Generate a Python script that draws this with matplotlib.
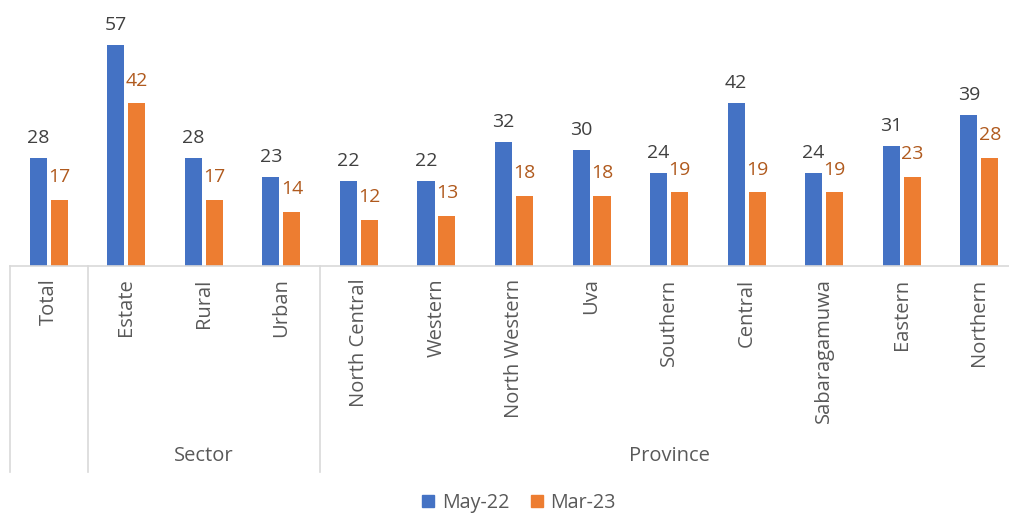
import matplotlib
matplotlib.use("Agg")
import matplotlib.pyplot as plt
import matplotlib.transforms as mtransforms
from matplotlib.patches import Patch
import numpy as np

plt.rcParams['font.family'] = ['Open Sans', 'DejaVu Sans']

categories = ["Total", "Estate", "Rural", "Urban", "North Central", "Western",
              "North Western", "Uva", "Southern", "Central", "Sabaragamuwa",
              "Eastern", "Northern"]
may22 = [28, 57, 28, 23, 22, 22, 32, 30, 24, 42, 24, 31, 39]
mar23 = [17, 42, 17, 14, 12, 13, 18, 18, 19, 19, 19, 23, 28]
groups = [("Sector", 1, 3), ("Province", 4, 12)]
separators = [-0.5, 0.5, 3.5, 12.5]

blue = "#4472C4"
orange = "#ED7D31"
grey_text = "#595959"
line_grey = "#D9D9D9"

W, H = 1009, 513
fig = plt.figure(figsize=(W / 100, H / 100), dpi=100)
ax = fig.add_axes([10 / W, (H - 266) / H, 1008 / W, 266 / H])

x = np.arange(len(categories))
bw = 0.22
off = 0.135
b1 = ax.bar(x - off, may22, bw, color=blue, label="May-22")
b2 = ax.bar(x + off, mar23, bw, color=orange, label="Mar-23")

for rect, v in zip(b1, may22):
    ax.annotate(str(v), (rect.get_x() + rect.get_width() / 2, v),
                xytext=(0, 8), textcoords="offset points",
                ha="center", va="bottom", fontsize=14, color="#404040")
for rect, v in zip(b2, mar23):
    ax.annotate(str(v), (rect.get_x() + rect.get_width() / 2, v),
                xytext=(0, 10), textcoords="offset points",
                ha="center", va="bottom", fontsize=14, color="#B05A1E")

ax.set_xlim(-0.5, len(categories) - 0.5)
ax.set_ylim(0, 266 / 3.87)
ax.set_xticks(x)
ax.set_xticklabels(categories, rotation=90, fontsize=14.5, color=grey_text)
ax.tick_params(axis="x", length=0, pad=9)
ax.set_yticks([])
for s in ["top", "right", "left"]:
    ax.spines[s].set_visible(False)
ax.spines["bottom"].set_color(line_grey)
ax.spines["bottom"].set_linewidth(1.2)

trans = mtransforms.blended_transform_factory(ax.transData, ax.transAxes)
for sx in separators:
    ax.plot([sx, sx], [0, -206 / 266], color=line_grey, lw=1.2,
            transform=trans, clip_on=False)

for name, i0, i1 in groups:
    ax.text((i0 + i1) / 2, (266 - 456) / 266, name, transform=trans,
            ha="center", va="center", fontsize=14.5, color=grey_text)

handles = [Patch(color=blue, label="May-22"), Patch(color=orange, label="Mar-23")]
fig.legend(handles=handles, loc="center", bbox_to_anchor=(519 / W, 1 - 503 / H),
           ncol=2, frameon=False, fontsize=14.2, handlelength=0.6, handleheight=0.6,
           handletextpad=0.4, columnspacing=1.1, labelcolor=grey_text)

fig.savefig("out.png", dpi=100)
